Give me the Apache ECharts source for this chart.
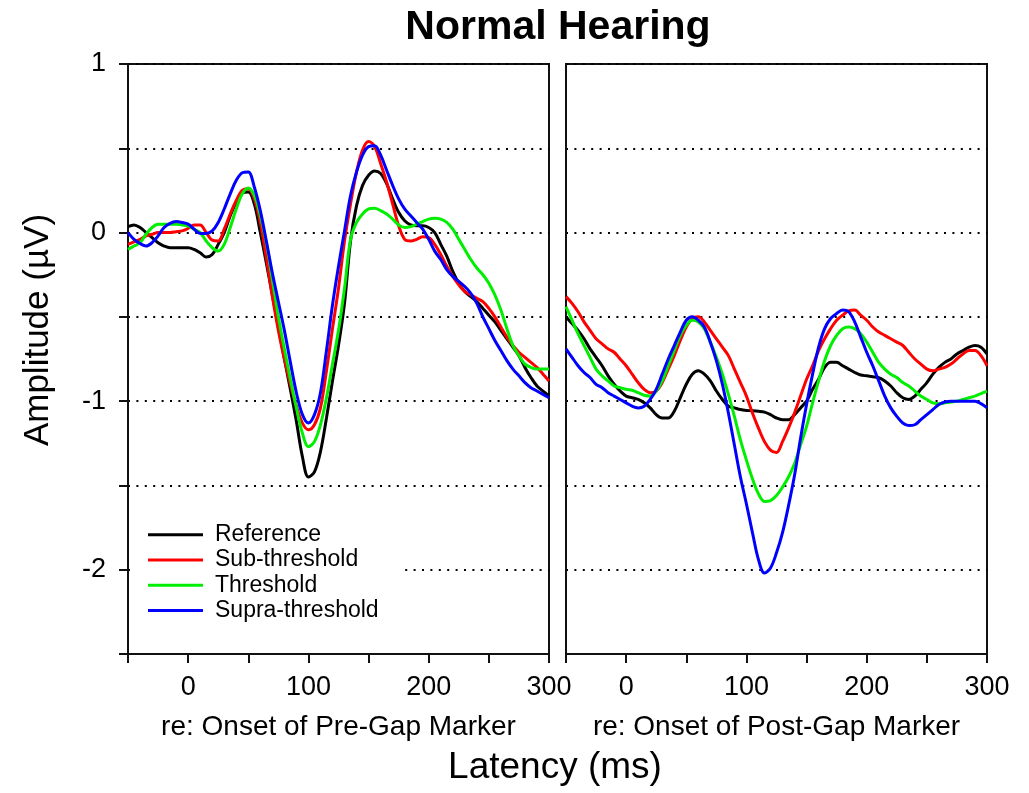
<!DOCTYPE html>
<html><head><meta charset="utf-8">
<script src="https://cdn.jsdelivr.net/npm/echarts@6/dist/echarts.min.js"></script>
<style>html,body{margin:0;padding:0;background:#fff}#c{width:1029px;height:793px}</style>
</head><body><div id="c"></div>
<script>
// Latency (ms) sample points, shared by both panels
const latency = [-50,-45,-40,-35,-30,-25,-20,-15,-10,-5,
  0,5,10,15,20,25,30,35,40,45,
  50,55,60,65,70,75,80,85,90,95,
  100,105,110,115,120,125,130,135,140,145,
  150,155,160,165,170,175,180,185,190,195,
  200,205,210,215,220,225,230,235,240,245,
  250,255,260,265,270,275,280,285,290,295,
  300];

const seriesNames = ['Reference','Sub-threshold','Threshold','Supra-threshold'];
const seriesColors = ['#000000','#ff0000','#00ee00','#0000ff'];

// Left panel: re: onset of pre-gap marker (µV)
const preReference = [0.035,0.045,0.03,0.0,-0.03,-0.06,-0.08,-0.09,-0.09,-0.09,
  -0.09,-0.1,-0.12,-0.145,-0.13,-0.07,0.0,0.1,0.18,0.235,
  0.24,0.17,0.0,-0.18,-0.37,-0.56,-0.75,-0.93,-1.12,-1.33,
  -1.45,-1.42,-1.3,-1.1,-0.88,-0.67,-0.42,-0.05,0.16,0.28,
  0.34,0.365,0.35,0.29,0.2,0.12,0.07,0.045,0.04,0.04,
  0.03,0.0,-0.07,-0.14,-0.23,-0.3,-0.35,-0.38,-0.41,-0.45,
  -0.49,-0.53,-0.58,-0.63,-0.68,-0.73,-0.8,-0.86,-0.91,-0.94,
  -0.97];
const preSub = [-0.07,-0.055,-0.04,-0.02,-0.01,0.0,0.0,0.0,0.005,0.01,
  0.025,0.045,0.045,0.0,-0.045,-0.05,0.02,0.11,0.19,0.25,
  0.26,0.2,0.06,-0.15,-0.38,-0.58,-0.75,-0.9,-1.03,-1.13,
  -1.17,-1.14,-1.04,-0.82,-0.57,-0.33,-0.05,0.17,0.36,0.49,
  0.54,0.51,0.41,0.3,0.17,0.04,-0.04,-0.05,-0.04,-0.025,
  -0.03,-0.07,-0.13,-0.2,-0.26,-0.31,-0.35,-0.37,-0.39,-0.41,
  -0.45,-0.5,-0.56,-0.62,-0.67,-0.71,-0.74,-0.77,-0.8,-0.84,
  -0.88];
const preThreshold = [-0.1,-0.08,-0.06,-0.01,0.03,0.05,0.05,0.05,0.05,0.045,
  0.04,0.02,0.0,-0.05,-0.09,-0.11,-0.07,0.03,0.14,0.23,
  0.265,0.22,0.1,-0.06,-0.28,-0.5,-0.69,-0.87,-1.04,-1.19,
  -1.27,-1.24,-1.14,-0.98,-0.78,-0.58,-0.33,-0.04,0.06,0.11,
  0.14,0.145,0.13,0.11,0.08,0.045,0.03,0.035,0.05,0.065,
  0.08,0.085,0.08,0.06,0.02,-0.04,-0.1,-0.16,-0.21,-0.25,
  -0.3,-0.37,-0.46,-0.57,-0.67,-0.73,-0.78,-0.8,-0.81,-0.81,
  -0.81];
const preSupra = [0.0,-0.04,-0.065,-0.08,-0.06,-0.02,0.03,0.055,0.065,0.06,
  0.05,0.02,-0.005,-0.005,0.01,0.06,0.14,0.23,0.31,0.355,
  0.36,0.27,0.13,-0.05,-0.24,-0.41,-0.58,-0.77,-0.95,-1.08,
  -1.13,-1.08,-0.95,-0.7,-0.43,-0.2,0.01,0.22,0.36,0.46,
  0.51,0.515,0.46,0.37,0.28,0.2,0.14,0.1,0.06,0.02,
  -0.04,-0.11,-0.16,-0.22,-0.26,-0.29,-0.32,-0.36,-0.42,-0.5,
  -0.57,-0.64,-0.7,-0.76,-0.81,-0.85,-0.89,-0.92,-0.94,-0.96,
  -0.98];

// Right panel: re: onset of post-gap marker (µV)
const postReference = [-0.5,-0.54,-0.58,-0.63,-0.69,-0.74,-0.79,-0.85,-0.9,-0.94,
  -0.97,-0.98,-0.99,-1.01,-1.04,-1.08,-1.1,-1.1,-1.06,-0.98,
  -0.9,-0.84,-0.82,-0.84,-0.88,-0.94,-0.99,-1.03,-1.04,-1.05,
  -1.055,-1.057,-1.06,-1.065,-1.08,-1.1,-1.11,-1.11,-1.08,-1.04,
  -1.0,-0.93,-0.87,-0.8,-0.77,-0.77,-0.79,-0.81,-0.83,-0.845,
  -0.85,-0.855,-0.86,-0.88,-0.91,-0.95,-0.98,-0.99,-0.97,-0.93,
  -0.89,-0.84,-0.8,-0.77,-0.75,-0.72,-0.7,-0.68,-0.67,-0.68,
  -0.72];
const postSub = [-0.38,-0.42,-0.47,-0.53,-0.58,-0.63,-0.66,-0.69,-0.71,-0.75,
  -0.79,-0.84,-0.89,-0.93,-0.95,-0.94,-0.89,-0.81,-0.73,-0.64,
  -0.56,-0.51,-0.5,-0.53,-0.58,-0.63,-0.68,-0.73,-0.81,-0.89,
  -0.97,-1.07,-1.16,-1.24,-1.29,-1.305,-1.24,-1.16,-1.07,-0.97,
  -0.87,-0.79,-0.7,-0.63,-0.57,-0.52,-0.49,-0.465,-0.46,-0.49,
  -0.52,-0.56,-0.59,-0.61,-0.63,-0.65,-0.67,-0.71,-0.75,-0.78,
  -0.81,-0.82,-0.81,-0.8,-0.78,-0.75,-0.72,-0.7,-0.7,-0.73,
  -0.79];
const postThreshold = [-0.44,-0.52,-0.6,-0.67,-0.74,-0.81,-0.85,-0.88,-0.91,-0.92,
  -0.93,-0.935,-0.95,-0.965,-0.97,-0.94,-0.88,-0.79,-0.7,-0.61,
  -0.55,-0.52,-0.53,-0.57,-0.65,-0.74,-0.84,-0.96,-1.09,-1.23,
  -1.35,-1.46,-1.55,-1.595,-1.59,-1.56,-1.51,-1.45,-1.37,-1.26,
  -1.15,-1.01,-0.88,-0.76,-0.67,-0.61,-0.57,-0.56,-0.57,-0.6,
  -0.65,-0.71,-0.77,-0.81,-0.84,-0.86,-0.89,-0.91,-0.94,-0.97,
  -0.99,-1.01,-1.015,-1.01,-1.005,-1.0,-0.99,-0.98,-0.97,-0.955,
  -0.94];
const postSupra = [-0.69,-0.74,-0.79,-0.83,-0.86,-0.9,-0.92,-0.95,-0.97,-0.99,
  -1.01,-1.03,-1.04,-1.03,-0.99,-0.93,-0.84,-0.75,-0.67,-0.59,
  -0.52,-0.5,-0.52,-0.56,-0.65,-0.76,-0.9,-1.07,-1.26,-1.45,
  -1.61,-1.78,-1.94,-2.02,-1.99,-1.9,-1.78,-1.62,-1.44,-1.22,
  -1.02,-0.84,-0.68,-0.57,-0.51,-0.48,-0.46,-0.47,-0.53,-0.62,
  -0.71,-0.79,-0.88,-0.97,-1.04,-1.09,-1.13,-1.145,-1.14,-1.11,
  -1.08,-1.05,-1.02,-1.005,-1.0,-1.0,-1.0,-1.0,-1.0,-1.015,
  -1.04];

// Tick labels shown
const xTickLabels = [0, 100, 200, 300];
const yTickLabels = [1, 0, -1, -2];

const titleText = 'Normal Hearing';
const yTitle = 'Amplitude (µV)';
const xTitle = 'Latency (ms)';
const panelTitles = ['re: Onset of Pre-Gap Marker', 're: Onset of Post-Gap Marker'];

const FONT = '"Liberation Sans", Arial, Helvetica, sans-serif';

function pairs(ys) { return latency.map((x, i) => [x, ys[i]]); }
const leftData = [preReference, preSub, preThreshold, preSupra];
const rightData = [postReference, postSub, postThreshold, postSupra];

function xAxisFor(gi) {
  return {
    type: 'value', gridIndex: gi, min: -50, max: 300, interval: 50,
    axisLine: { show: true, onZero: false, lineStyle: { color: '#111', width: 2 } },
    axisTick: { show: true, inside: false, length: 9, lineStyle: { color: '#111', width: 2 } },
    axisLabel: {
      show: true, margin: 20, fontSize: 27, fontFamily: FONT, color: '#000',
      formatter: v => xTickLabels.some(t => Math.abs(t - v) < 1e-9) ? String(v) : ''
    },
    splitLine: { show: false },
    name: panelTitles[gi], nameLocation: 'middle', nameGap: 59,
    nameTextStyle: { fontSize: 28, fontFamily: FONT, color: '#000' }
  };
}
function yAxisFor(gi) {
  const left = gi === 0;
  return {
    type: 'value', gridIndex: gi, min: -2.5, max: 1, interval: 0.5,
    axisLine: { show: true, onZero: false, lineStyle: { color: '#111', width: 2 } },
    axisTick: { show: left, inside: false, length: 9, lineStyle: { color: '#111', width: 2 } },
    axisLabel: {
      show: left, margin: 22, fontSize: 27, fontFamily: FONT, color: '#000',
      formatter: v => yTickLabels.some(t => Math.abs(t - v) < 1e-9) ? String(Math.round(v)) : ''
    },
    splitLine: { show: true, lineStyle: { color: '#000', width: 2, type: [2, 6.4] } }
  };
}

const series = [];
[leftData, rightData].forEach((set, gi) => {
  set.forEach((ys, si) => {
    series.push({
      name: seriesNames[si], type: 'line', xAxisIndex: gi, yAxisIndex: gi,
      data: pairs(ys), smooth: 0.35, showSymbol: false, symbol: 'none',
      lineStyle: { color: seriesColors[si], width: 3 }, itemStyle: { color: seriesColors[si] },
      clip: true, z: 2 + si
    });
  });
});

const chart = echarts.init(document.getElementById('c'), null, { renderer: 'canvas' });
chart.setOption({
  animation: false,
  backgroundColor: '#fff',
  grid: [
    { left: 128, top: 64, width: 421, height: 590, show: true, borderColor: '#111', borderWidth: 2, backgroundColor: 'transparent' },
    { left: 566, top: 64, width: 421, height: 590, show: true, borderColor: '#111', borderWidth: 2, backgroundColor: 'transparent' }
  ],
  xAxis: [xAxisFor(0), xAxisFor(1)],
  yAxis: [yAxisFor(0), yAxisFor(1)],
  legend: {
    orient: 'vertical', left: 133, top: 518, padding: [5, 23, 5, 15], backgroundColor: '#fff',
    itemWidth: 55, itemHeight: 3, itemGap: 2, icon: 'rect',
    textStyle: { fontSize: 23, fontFamily: FONT, color: '#000', lineHeight: 23.3, padding: [0, 0, 0, 7] },
    data: seriesNames, z: 10
  },
  graphic: [
    { type: 'text', x: 558, y: 28, z: 20, style: { text: titleText, font: 'bold 41px ' + FONT, fill: '#000', align: 'center', verticalAlign: 'middle' } },
    { type: 'text', x: 38, y: 330, rotation: Math.PI / 2, z: 20, style: { text: yTitle, font: '35px ' + FONT, fill: '#000', align: 'center', verticalAlign: 'middle' } },
    { type: 'text', x: 555, y: 768, z: 20, style: { text: xTitle, font: '37px ' + FONT, fill: '#000', align: 'center', verticalAlign: 'middle' } }
  ],
  series: series
});
</script>
</body></html>
